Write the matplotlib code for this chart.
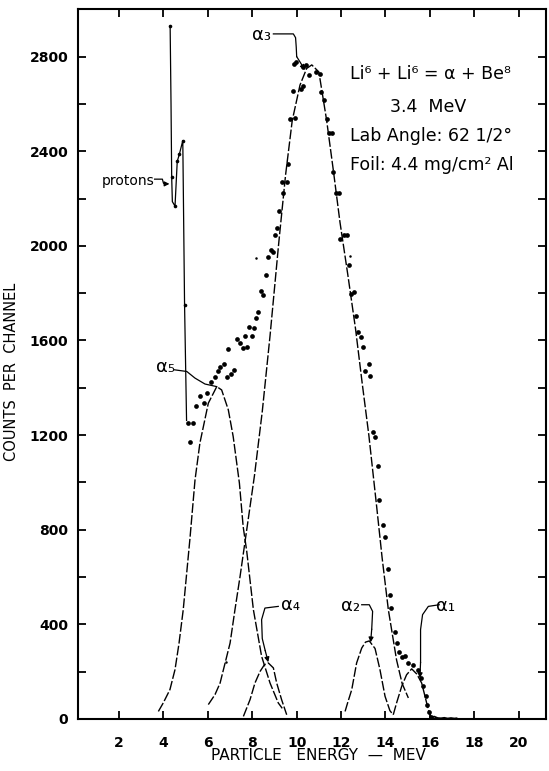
import matplotlib
matplotlib.use("Agg")
import matplotlib.pyplot as plt

# ---------------- data ----------------
# measured counts (dots)
dots_x = [5.12, 5.19, 5.34, 5.46, 5.64, 5.82, 5.97, 6.12, 6.31, 6.45, 6.55, 6.73, 6.85, 6.92,
          7.03, 7.18, 7.32, 7.45, 7.57, 7.67, 7.75, 7.87, 7.99, 8.08, 8.17, 8.27, 8.39, 8.50,
          8.60, 8.69, 8.83, 8.95, 9.02, 9.13, 9.22, 9.32, 9.40, 9.55, 9.62, 9.70, 9.82, 9.88,
          9.92, 9.95, 10.18, 10.27, 10.30, 10.40, 10.57, 10.87, 11.05, 11.08, 11.24, 11.35,
          11.47, 11.58, 11.65, 11.76, 11.92, 11.95, 12.13, 12.25, 12.36, 12.43, 12.58, 12.66,
          12.76, 12.88, 13.00, 13.09, 13.24, 13.30, 13.45, 13.55, 13.68, 13.72, 13.91, 13.99,
          14.13, 14.20, 14.27, 14.43, 14.50, 14.62, 14.75, 14.88, 15.03, 15.25, 15.48, 15.58,
          15.70, 15.81, 15.88, 15.97, 16.07]
dots_y = [1250, 1173, 1252, 1321, 1367, 1337, 1380, 1426, 1447, 1469, 1487, 1501, 1447, 1564,
          1460, 1476, 1605, 1589, 1567, 1619, 1572, 1656, 1619, 1652, 1694, 1722, 1811, 1793,
          1875, 1955, 1983, 1972, 2047, 2075, 2149, 2272, 2225, 2272, 2347, 2536, 2655, 2770,
          2540, 2779, 2662, 2755, 2674, 2766, 2723, 2733, 2727, 2652, 2617, 2536,
          2476, 2476, 2314, 2223, 2223, 2030, 2044, 2044, 1918, 1796, 1803, 1703,
          1636, 1615, 1574, 1473, 1501, 1450, 1215, 1194, 1070, 926, 820, 770,
          636, 523, 471, 366, 320, 285, 262, 265, 237, 230, 208, 173,
          138, 96, 61, 28, 8]

# faint isolated points
stray_x = [6.82, 8.17, 12.40]
stray_y = [242, 1948, 1958]

# tail along the baseline
tail_x = [16.07, 16.2, 16.35, 16.5, 16.65, 16.8, 16.95, 17.1, 17.2]
tail_y = [8, 10, 4, 3, 5, 2, 4, 2, 3]

# proton group (joined by a solid line)
proton_x = [4.30, 4.34, 4.37, 4.40, 4.52, 4.62, 4.72, 4.87, 4.95, 5.04]
proton_y = [2930, 2600, 2290, 2187, 2168, 2357, 2389, 2445, 1750, 1262]
proton_mark_x = [4.30, 4.37, 4.52, 4.62, 4.72, 4.87, 4.95]
proton_mark_y = [2930, 2290, 2168, 2357, 2389, 2445, 1750]

# fitted alpha groups (dashed curves)
a1_x = [14.35, 14.5, 14.73, 14.95, 15.18, 15.41, 15.63, 15.78, 15.93, 16.05]
a1_y = [18, 68, 138, 187, 212, 190, 152, 96, 39, 11]
a2_x = [12.18, 12.30, 12.48, 12.70, 12.93, 13.10, 13.27, 13.53, 13.75, 13.98, 14.2, 14.35]
a2_y = [32, 70, 124, 237, 300, 325, 330, 298, 209, 96, 35, 18]
a3_x = [6.02, 6.32, 6.55, 7.0, 7.22, 7.45, 7.75, 8.1, 8.45, 8.8, 9.2, 9.5, 9.8, 10.15,
        10.45, 10.68, 11.0, 11.35, 11.65, 11.95, 12.3, 12.65, 12.95, 13.25, 13.6, 13.85,
        14.13, 14.5, 14.75, 15.03]
a3_y = [61, 103, 152, 321, 462, 603, 800, 1030, 1300, 1620, 2020, 2300, 2530, 2680,
        2750, 2765, 2735, 2530, 2320, 2100, 1880, 1650, 1420, 1200, 900, 680,
        461, 249, 150, 89]
a4_x = [7.60, 7.90, 8.12, 8.35, 8.55, 8.72, 8.95, 9.10, 9.32, 9.55]
a4_y = [11, 82, 152, 201, 230, 237, 216, 152, 82, 18]
a5_x = [3.77, 3.99, 4.29, 4.52, 4.70, 4.89, 5.19, 5.42, 5.64, 6.02, 6.40, 6.62, 6.92,
        7.14, 7.42, 7.59, 7.75, 8.05, 8.42, 8.8, 9.17, 9.35]
a5_y = [32, 68, 124, 209, 320, 462, 760, 1010, 1166, 1335, 1405, 1391, 1307,
        1194, 997, 813, 709, 462, 265, 152, 68, 45]

x_ticks = [2, 4, 6, 8, 10, 12, 14, 16, 18, 20]
y_ticks = [0, 200, 400, 600, 800, 1000, 1200, 1400, 1600, 1800, 2000, 2200, 2400, 2600, 2800]
y_labels = ["0", "", "400", "", "800", "", "1200", "", "1600", "", "2000", "", "2400", "", "2800"]

# ---------------- figure ----------------
plt.rcParams['font.family'] = ['DejaVu Sans']
W, H = 549, 771
fig = plt.figure(figsize=(W / 100, H / 100), dpi=100)
ax = fig.add_axes([78 / W, 1 - 719 / H, (546 - 78) / W, (719 - 9.3) / H])
ax.set_xlim(0.15, 21.23)
ax.set_ylim(0, 3000)

k = 'black'
dash = dict(color=k, lw=1.0, dashes=(7, 1.6))
for xs, ys in [(a1_x, a1_y), (a2_x, a2_y), (a3_x, a3_y), (a4_x, a4_y), (a5_x, a5_y)]:
    ax.plot(xs, ys, **dash)

ax.plot(proton_x, proton_y, color=k, lw=0.9)
ax.plot(proton_mark_x, proton_mark_y, 'o', color=k, ms=2.6, mec='none')
ax.plot(dots_x, dots_y, 'o', color=k, ms=3.4, mec='none')
ax.plot(stray_x, stray_y, 'o', color=k, ms=1.8, mec='none')
ax.plot(tail_x, tail_y, color=k, lw=1.3)

# ---------------- labels and leaders ----------------
lead = dict(color=k, lw=0.9)
arrow = dict(arrowstyle='-|>', color=k, lw=0.9, mutation_scale=7, shrinkA=0, shrinkB=0)

# alpha 3
ax.text(8.4, 2890, 'α₃', fontsize=13, ha='center', va='center')
ax.plot([8.95, 9.85, 9.95, 9.98, 10.0], [2896, 2896, 2880, 2840, 2800], **lead)
ax.annotate('', xy=(10.37, 2744), xytext=(10.0, 2800), arrowprops=arrow)

# alpha 5
ax.text(4.07, 1490, 'α₅', fontsize=13, ha='center', va='center')
ax.plot([4.5, 5.05, 5.42, 5.87, 6.40], [1476, 1469, 1441, 1416, 1405], **lead)

# alpha 4
ax.text(9.7, 480, 'α₄', fontsize=13, ha='center', va='center')
ax.plot([9.17, 8.57, 8.42, 8.45, 8.58], [476, 469, 420, 340, 290], **lead)
ax.annotate('', xy=(8.72, 240), xytext=(8.58, 290), arrowprops=arrow)

# alpha 2
ax.text(12.44, 478, 'α₂', fontsize=13, ha='center', va='center')
ax.plot([12.93, 13.27, 13.42, 13.38], [483, 483, 455, 380], **lead)
ax.annotate('', xy=(13.33, 324), xytext=(13.38, 380), arrowprops=arrow)

# alpha 1
ax.text(16.72, 478, 'α₁', fontsize=13, ha='center', va='center')
ax.plot([16.42, 15.93, 15.67, 15.58, 15.58], [483, 476, 441, 378, 240], **lead)
ax.annotate('', xy=(15.55, 173), xytext=(15.58, 240), arrowprops=arrow)

# protons
ax.text(2.42, 2275, 'protons', fontsize=10, ha='center', va='center')
ax.plot([3.6, 3.95, 4.0, 4.05], [2282, 2282, 2265, 2262], **lead)
ax.annotate('', xy=(4.27, 2262), xytext=(4.05, 2262), arrowprops=arrow)

# reaction description
ax.text(12.4, 2728, 'Li⁶ + Li⁶ = α + Be⁸', fontsize=12.5, ha='left', va='center')
ax.text(14.2, 2588, '3.4  MeV', fontsize=12.5, ha='left', va='center')
ax.text(12.4, 2465, 'Lab Angle: 62 1/2°', fontsize=12.5, ha='left', va='center')
ax.text(12.4, 2342, 'Foil: 4.4 mg/cm² Al', fontsize=12.5, ha='left', va='center')

# ---------------- axes styling ----------------
ax.set_xticks(x_ticks)
ax.set_xticklabels([str(t) for t in x_ticks])
ax.set_yticks(y_ticks)
ax.set_yticklabels(y_labels)
ax.tick_params(direction='in', length=6, width=1.3, top=True, right=True,
               labelsize=10)
ax.tick_params(axis='x', pad=12)
ax.tick_params(axis='y', pad=7)
for lab in ax.get_xticklabels() + ax.get_yticklabels():
    lab.set_fontweight('bold')
for s in ax.spines.values():
    s.set_linewidth(1.5)

fig.text(12 / W, 1 - 372 / H, 'COUNTS  PER  CHANNEL', rotation=90, fontsize=10.5,
         ha='center', va='center')
fig.text(318 / W, 1 - 756 / H, 'PARTICLE   ENERGY  —  MEV', fontsize=11,
         ha='center', va='center')

fig.savefig('out.png', dpi=100)
